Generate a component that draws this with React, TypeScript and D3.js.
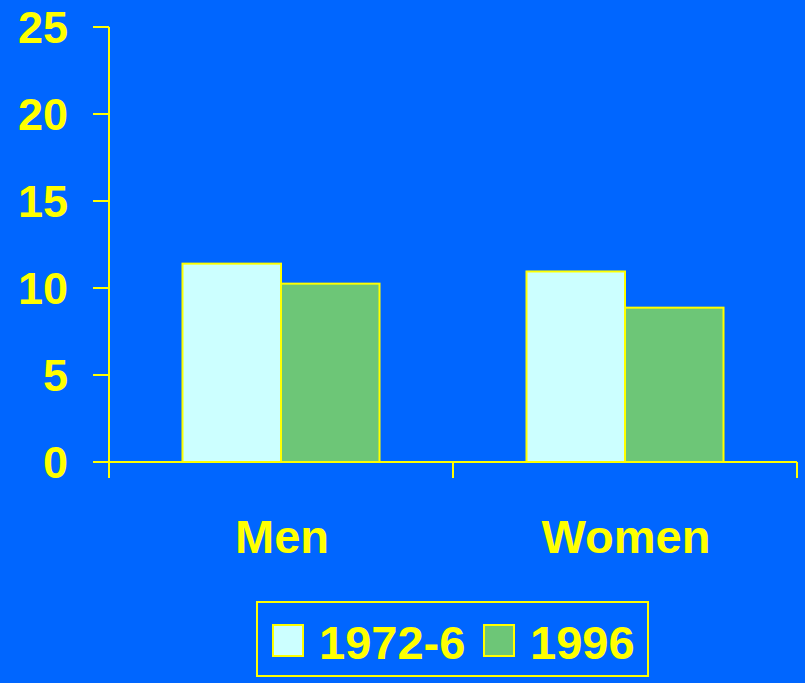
import { useEffect, useRef } from 'react'
import * as d3 from 'd3'

const CATEGORIES = ['Men', 'Women']
const SERIES = ['1972-6', '1996']
const VALUES_1972 = [11.4, 10.95]
const VALUES_1996 = [10.25, 8.87]
const Y_TICKS = [0, 5, 10, 15, 20, 25]
const COLORS = ['#CCFFFF', '#6DC677']

const W = 805
const H = 683
const BG = '#0066FF'
const YELLOW = '#FFFF00'
const FONT = '"Liberation Sans", Arial, sans-serif'

export default function App() {
  const svgRef = useRef<SVGSVGElement>(null)

  useEffect(() => {
    const svgEl = svgRef.current
    if (!svgEl) return
    const svg = d3.select(svgEl)
    svg.selectAll('*').remove()

    const left = 109, right = 797, top = 27, bottom = 462

    svg.append('rect').attr('width', W).attr('height', H).attr('fill', BG)

    const y = d3.scaleLinear().domain([0, 25]).range([bottom, top])
    const x0 = d3.scaleBand<string>().domain(CATEGORIES).range([left, right]).padding(0)
    const x1 = d3.scaleBand<string>().domain(SERIES).range([0, x0.bandwidth()])
      .paddingInner(0).paddingOuter(0.746)

    const rows = CATEGORIES.map((c, i) => ({ cat: c, vals: [VALUES_1972[i], VALUES_1996[i]] }))

    // bars
    rows.forEach(r => {
      const g = svg.append('g').attr('transform', `translate(${x0(r.cat)},0)`)
      r.vals.forEach((v, j) => {
        g.append('rect')
          .attr('x', x1(SERIES[j])!)
          .attr('y', y(v))
          .attr('width', x1.bandwidth())
          .attr('height', y(0) - y(v))
          .attr('fill', COLORS[j])
          .attr('stroke', YELLOW).attr('stroke-width', 2)
      })
    })

    // y axis
    svg.append('line').attr('x1', left).attr('x2', left).attr('y1', top).attr('y2', bottom + 16)
      .attr('stroke', YELLOW).attr('stroke-width', 2)
    Y_TICKS.forEach(t => {
      svg.append('line').attr('x1', left - 16).attr('x2', left).attr('y1', y(t)).attr('y2', y(t))
        .attr('stroke', YELLOW).attr('stroke-width', 2)
      svg.append('text').attr('x', 68).attr('y', y(t)).attr('dy', '0.36em')
        .attr('text-anchor', 'end').attr('fill', YELLOW)
        .attr('font-family', FONT).attr('font-weight', 'bold').attr('font-size', 45)
        .text(t)
    })

    // x axis
    svg.append('line').attr('x1', left - 16).attr('x2', right).attr('y1', bottom).attr('y2', bottom)
      .attr('stroke', YELLOW).attr('stroke-width', 2)
    CATEGORIES.forEach(c => {
      const xe = x0(c)! + x0.bandwidth()
      svg.append('line').attr('x1', xe).attr('x2', xe).attr('y1', bottom).attr('y2', bottom + 16)
        .attr('stroke', YELLOW).attr('stroke-width', 2)
      svg.append('text').attr('x', x0(c)! + x0.bandwidth() / 2 + 1).attr('y', 553)
        .attr('text-anchor', 'middle').attr('fill', YELLOW)
        .attr('font-family', FONT).attr('font-weight', 'bold').attr('font-size', 47)
        .text(c)
    })

    // legend
    svg.append('rect').attr('x', 257).attr('y', 602).attr('width', 391).attr('height', 74)
      .attr('fill', 'none').attr('stroke', YELLOW).attr('stroke-width', 2)
    const legX = [273, 484]
    SERIES.forEach((s, j) => {
      svg.append('rect').attr('x', legX[j]).attr('y', 625).attr('width', 30).attr('height', 31)
        .attr('fill', COLORS[j]).attr('stroke', YELLOW).attr('stroke-width', 2)
      svg.append('text').attr('x', legX[j] + 46).attr('y', 659)
        .attr('fill', YELLOW).attr('font-family', FONT).attr('font-weight', 'bold').attr('font-size', 47)
        .text(s)
    })
  }, [])

  return (
    <svg ref={svgRef} width={W} height={H}
      style={{ position: 'absolute', left: 0, top: 0, display: 'block' }} />
  )
}
